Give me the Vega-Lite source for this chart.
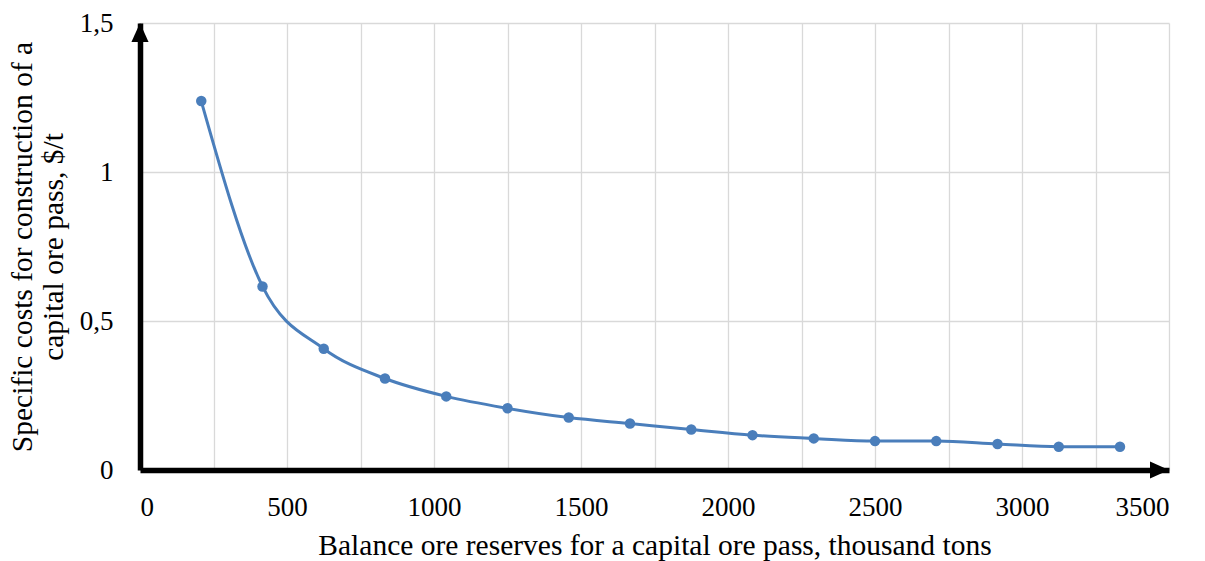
{
  "$schema": "https://vega.github.io/schema/vega-lite/v6.json",
  "width": 1029,
  "height": 447,
  "autosize": {"type": "none"},
  "padding": {"left": 140, "top": 23, "right": 36, "bottom": 91},
  "background": "white",
  "config": {
    "view": {"stroke": null},
    "font": "Times New Roman, Liberation Serif, serif",
    "axis": {
      "labelFont": "Times New Roman, Liberation Serif, serif",
      "titleFont": "Times New Roman, Liberation Serif, serif",
      "labelColor": "#000000",
      "titleColor": "#000000",
      "titleFontWeight": "normal",
      "labelFontSize": 27,
      "titleFontSize": 29.5,
      "gridColor": "#d9d9d9",
      "gridWidth": 1.3,
      "domainColor": "#000000",
      "domainWidth": 5.5,
      "ticks": false
    }
  },
  "datasets": {
    "pts": [
      {"x": 208.3, "y": 1.238},
      {"x": 416.7, "y": 0.616},
      {"x": 625.0, "y": 0.407},
      {"x": 833.3, "y": 0.307},
      {"x": 1041.7, "y": 0.247},
      {"x": 1250.0, "y": 0.207},
      {"x": 1458.3, "y": 0.176},
      {"x": 1666.7, "y": 0.156},
      {"x": 1875.0, "y": 0.136},
      {"x": 2083.3, "y": 0.117},
      {"x": 2291.7, "y": 0.106},
      {"x": 2500.0, "y": 0.097},
      {"x": 2708.3, "y": 0.097},
      {"x": 2916.7, "y": 0.087},
      {"x": 3125.0, "y": 0.078},
      {"x": 3333.3, "y": 0.078}
    ],
    "arrowUp": [{"x": 0, "y": 1.5}],
    "arrowRight": [{"x": 3500, "y": 0}]
  },
  "encoding": {
    "x": {
      "field": "x",
      "type": "quantitative",
      "scale": {"domain": [0, 3500], "nice": false, "zero": false},
      "axis": {
        "values": [0, 250, 500, 750, 1000, 1250, 1500, 1750, 2000, 2250, 2500, 2750, 3000, 3250, 3500],
        "labelExpr": "datum.value % 500 == 0 ? format(datum.value, 'd') : ''",
        "labelPadding": 24,
        "title": "Balance ore reserves for a capital ore pass, thousand tons",
        "titlePadding": 11
      }
    },
    "y": {
      "field": "y",
      "type": "quantitative",
      "scale": {"domain": [0, 1.5], "nice": false},
      "axis": {
        "values": [0, 0.5, 1, 1.5],
        "labelExpr": "replace(format(datum.value, '~g'), '.', ',')",
        "labelPadding": 27,
        "title": ["Specific costs for construction of a", "capital ore pass, $/t"],
        "titleLineHeight": 31,
        "titlePadding": 11
      }
    }
  },
  "layer": [
    {
      "data": {"name": "pts"},
      "mark": {"type": "line", "interpolate": "monotone", "color": "#4a7ebb", "strokeWidth": 3}
    },
    {
      "data": {"name": "pts"},
      "mark": {"type": "point", "filled": true, "opacity": 1, "size": 110, "color": "#4a7ebb"}
    },
    {
      "data": {"name": "arrowUp"},
      "mark": {"type": "point", "filled": true, "opacity": 1, "color": "#000000", "size": 361, "shape": "M0,0L-0.9,2L0.9,2Z"}
    },
    {
      "data": {"name": "arrowRight"},
      "mark": {"type": "point", "filled": true, "opacity": 1, "color": "#000000", "size": 361, "shape": "M0,0L-2,-0.9L-2,0.9Z"}
    }
  ]
}
